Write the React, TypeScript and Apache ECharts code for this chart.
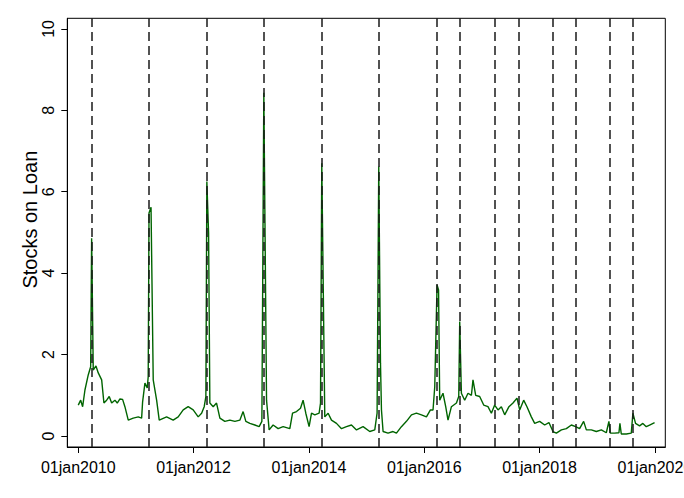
import React, { useEffect, useRef } from "react";
import * as echarts from "echarts";

// decimal-year time stamps and stocks on loan values
const time = [
  2010.000, 2010.042, 2010.076, 2010.116, 2010.173, 2010.215, 2010.232, 2010.260, 2010.307, 2010.347,
  2010.406, 2010.445, 2010.492, 2010.537, 2010.579, 2010.636, 2010.676, 2010.723, 2010.769, 2010.809,
  2010.867, 2010.953, 2011.040, 2011.099, 2011.116, 2011.156, 2011.196, 2011.213, 2011.227, 2011.262,
  2011.300, 2011.359, 2011.404, 2011.532, 2011.646, 2011.733, 2011.820, 2011.906, 2011.993, 2012.080,
  2012.139, 2012.184, 2012.213, 2012.230, 2012.260, 2012.282, 2012.340, 2012.398, 2012.456, 2012.542,
  2012.629, 2012.716, 2012.802, 2012.859, 2012.906, 2012.976, 2013.062, 2013.137, 2013.184, 2013.218,
  2013.265, 2013.310, 2013.379, 2013.466, 2013.553, 2013.669, 2013.716, 2013.785, 2013.854, 2013.899,
  2013.946, 2014.003, 2014.045, 2014.102, 2014.177, 2014.201, 2014.223, 2014.275, 2014.333, 2014.391,
  2014.478, 2014.565, 2014.651, 2014.738, 2014.825, 2014.939, 2015.055, 2015.142, 2015.182, 2015.211,
  2015.241, 2015.258, 2015.286, 2015.372, 2015.459, 2015.518, 2015.604, 2015.691, 2015.778, 2015.864,
  2015.951, 2016.038, 2016.107, 2016.152, 2016.182, 2016.222, 2016.248, 2016.268, 2016.325, 2016.372,
  2016.412, 2016.471, 2016.558, 2016.598, 2016.615, 2016.644, 2016.701, 2016.759, 2016.818, 2016.845,
  2016.892, 2016.961, 2017.031, 2017.105, 2017.164, 2017.221, 2017.279, 2017.337, 2017.395, 2017.469,
  2017.539, 2017.608, 2017.655, 2017.724, 2017.781, 2017.857, 2017.915, 2018.001, 2018.088, 2018.162,
  2018.232, 2018.291, 2018.378, 2018.464, 2018.551, 2018.625, 2018.694, 2018.764, 2018.811, 2018.897,
  2018.984, 2019.071, 2019.157, 2019.202, 2019.227, 2019.301, 2019.376, 2019.393, 2019.417, 2019.504,
  2019.590, 2019.618, 2019.664, 2019.734, 2019.791, 2019.850, 2019.908, 2019.994,
];

const stocksOnLoan = [
  0.76, 0.88, 0.72, 1.13, 1.50, 1.70, 4.86, 1.62, 1.72, 1.55,
  1.38, 0.81, 0.88, 0.97, 0.81, 0.88, 0.81, 0.91, 0.90, 0.72,
  0.39, 0.44, 0.47, 0.44, 0.84, 1.30, 1.18, 1.46, 5.48, 5.62,
  1.38, 0.88, 0.39, 0.47, 0.39, 0.47, 0.64, 0.72, 0.64, 0.47,
  0.56, 0.72, 0.97, 6.25, 4.99, 0.81, 0.72, 0.81, 0.44, 0.36,
  0.39, 0.36, 0.39, 0.60, 0.36, 0.31, 0.27, 0.23, 0.36, 8.43,
  0.88, 0.15, 0.27, 0.18, 0.23, 0.18, 0.56, 0.60, 0.68, 0.88,
  0.56, 0.23, 0.56, 0.52, 0.56, 0.81, 6.70, 0.47, 0.56, 0.39,
  0.31, 0.18, 0.23, 0.27, 0.15, 0.23, 0.11, 0.15, 0.56, 6.62,
  1.79, 0.64, 0.11, 0.07, 0.11, 0.07, 0.23, 0.36, 0.52, 0.56,
  0.52, 0.47, 0.64, 0.64, 1.21, 3.71, 3.59, 0.88, 1.05, 0.72,
  0.39, 0.72, 0.81, 0.97, 2.81, 1.05, 0.88, 1.05, 1.00, 1.38,
  1.00, 0.97, 0.76, 0.72, 0.56, 0.76, 0.64, 0.72, 0.52, 0.72,
  0.81, 0.93, 0.64, 0.88, 0.72, 0.47, 0.31, 0.36, 0.27, 0.33,
  0.11, 0.07, 0.15, 0.18, 0.27, 0.23, 0.18, 0.36, 0.15, 0.15,
  0.11, 0.15, 0.08, 0.36, 0.07, 0.07, 0.08, 0.31, 0.05, 0.05,
  0.07, 0.56, 0.31, 0.25, 0.31, 0.23, 0.27, 0.33,
];

// dashed reference lines (decimal years)
const eventLines = [
  2010.237, 2011.230, 2012.225, 2013.218, 2014.218, 2015.211, 2016.222,
  2016.615, 2017.227, 2017.626, 2018.222, 2018.625, 2019.214, 2019.618,
];

const xTicks = [2010, 2012, 2014, 2016, 2018, 2020];
const yTicks = [0, 2, 4, 6, 8, 10];

const FONT = "'Liberation Sans', Arial, sans-serif";

export default function App() {
  const ref = useRef<HTMLDivElement>(null);
  useEffect(() => {
    if (!ref.current) return;
    const chart = echarts.init(ref.current, null, { renderer: "svg" });
    chart.setOption({
      animation: false,
      backgroundColor: "#ffffff",
      grid: {
        left: 67.3,
        right: 18.7,
        top: 18.3,
        bottom: 51,
        show: true,
        borderColor: "#000",
        borderWidth: 1,
        containLabel: false,
        outerBoundsMode: "none",
      },
      xAxis: {
        type: "value",
        min: 2009.81,
        max: 2020.18,
        axisLine: { show: true, onZero: false, lineStyle: { color: "#000", width: 1 } },
        axisTick: { show: true, customValues: xTicks, length: 6, lineStyle: { color: "#000" } },
        axisLabel: {
          customValues: xTicks,
          formatter: (v: number) => "01jan" + v,
          color: "#000",
          fontSize: 16,
          fontFamily: FONT,
          margin: 12,
        },
        splitLine: { show: false },
      },
      yAxis: {
        type: "value",
        min: -0.27,
        max: 10.26,
        name: "Stocks on Loan",
        nameLocation: "middle",
        nameGap: 27,
        nameRotate: 90,
        nameMoveOverlap: false,
        nameTextStyle: { color: "#000", fontSize: 20, fontFamily: FONT, padding: [0, 0, 0, 26] },
        axisLine: { show: true, onZero: false, lineStyle: { color: "#000", width: 1 } },
        axisTick: { show: true, customValues: yTicks, length: 6, lineStyle: { color: "#000" } },
        axisLabel: {
          customValues: yTicks,
          rotate: 90,
          color: "#000",
          fontSize: 16,
          fontFamily: FONT,
          margin: 11,
        },
        splitLine: { show: false },
      },
      series: [
        {
          type: "line",
          data: time.map((t, i) => [t, stocksOnLoan[i]]),
          showSymbol: false,
          symbol: "none",
          lineStyle: { color: "#006400", width: 1.4 },
          markLine: {
            silent: true,
            symbol: ["none", "none"],
            label: { show: false },
            lineStyle: { color: "#1a1a1a", type: [9, 5], width: 1.5 },
            data: eventLines.map((t) => ({ xAxis: t })),
          },
        },
      ],
    });
    return () => chart.dispose();
  }, []);
  return (
    <div
      ref={ref}
      style={{ position: "absolute", left: 0, top: 0, width: 684, height: 498, background: "#fff" }}
    />
  );
}
